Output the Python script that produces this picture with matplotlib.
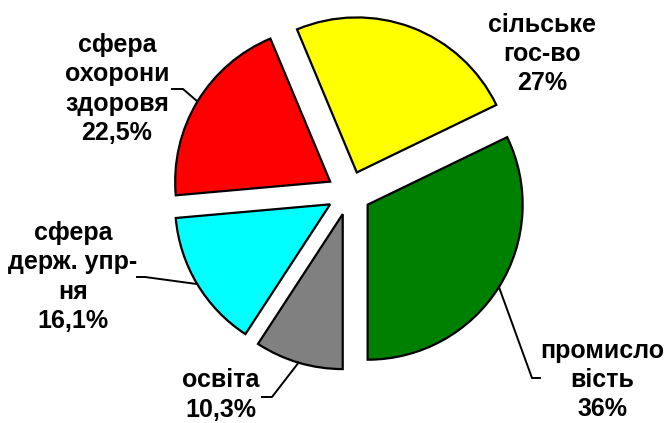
import numpy as np
import matplotlib
matplotlib.use('Agg')
import matplotlib.pyplot as plt

# values as shown on the chart (clockwise from 6 o'clock)
names = ['освіта', 'сфера\nдерж. упр-\nня', 'сфера\nохорони\nздоровя',
         'сільське\nгос-во', 'промисло\nвість']
values = [10.3, 16.1, 22.5, 27, 36]
colors = ['#808080', '#00FFFF', '#FF0000', '#FFFF00', '#008000']

plt.rcParams['font.family'] = ['Liberation Sans', 'DejaVu Sans']

W, H = 665, 423
fig = plt.figure(figsize=(W / 100, H / 100), dpi=100)
ax = fig.add_axes([0, 0, 1, 1])

R = 155
C = (349, 230)
# pie explode offset is in data units here (pixels)
wedges, _ = ax.pie(values, colors=colors, startangle=-90, counterclock=False,
                   radius=R, center=C, explode=[22] * len(values),
                   wedgeprops=dict(edgecolor='black', linewidth=1.6))
ax.set_xlim(0, W)
ax.set_ylim(0, H)
ax.set_aspect('equal')
ax.axis('off')

def fmt(v):
    return ('%g' % v).replace('.', ',') + '%'

# label centres, leader elbow and end (None = no leader)
label_pos = [(221, 28), (73, 146), (117, 334), (542, 369), (602, 43)]
leaders = [[(272, 26), (262, 26)],
           [(145, 146), (137, 146)],
           [(183, 334), (172, 334)],
           None,
           [(532, 45), (540, 45)]]

for w, name, v, pos, ld in zip(wedges, names, values, label_pos, leaders):
    ax.text(pos[0], pos[1], name + '\n' + fmt(v), ha='center', va='center',
            fontsize=18, fontweight='bold', linespacing=1.28)
    if ld is None:
        continue
    mid = np.deg2rad((w.theta1 + w.theta2) / 2)
    cx, cy = w.center
    p0 = (cx + w.r * np.cos(mid), cy + w.r * np.sin(mid))
    xs = [p0[0]] + [p[0] for p in ld]
    ys = [p0[1]] + [p[1] for p in ld]
    ax.plot(xs, ys, color='black', lw=1.4)

fig.savefig('out.png', dpi=100)
